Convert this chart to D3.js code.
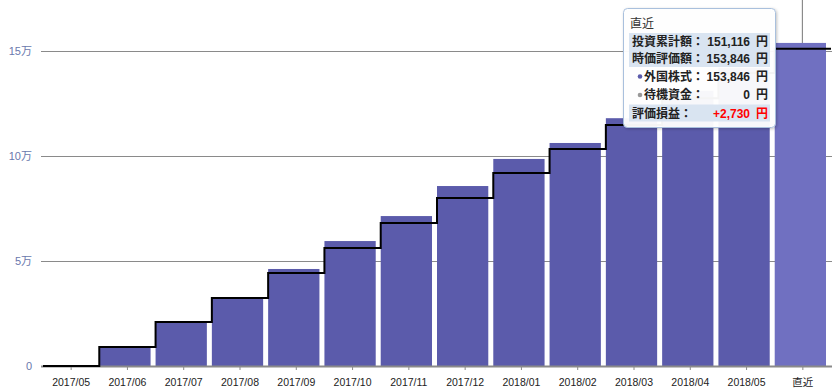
<!DOCTYPE html>
<html><head><meta charset="utf-8">
<script src="https://cdn.jsdelivr.net/npm/d3@7"></script>
<style>
html,body{margin:0;padding:0;background:#fff;}
svg{display:block;font-family:"Liberation Sans","Noto Sans CJK JP",sans-serif;}
</style></head>
<body>
<svg id="chart" width="832" height="391"></svg>
<script>
const categories = ["2017/05","2017/06","2017/07","2017/08","2017/09","2017/10","2017/11","2017/12","2018/01","2018/02","2018/03","2018/04","2018/05","直近"];
const marketValue = [0, 9000, 20500, 31900, 46200, 59500, 71400, 85700, 98600, 106200, 118000, 131000, 142000, 153846];
const invested = [0, 9000, 21000, 32400, 44300, 56200, 68100, 80000, 91900, 103300, 114800, 127500, 139500, 151116];
const yTicks = [0, 50000, 100000, 150000];
const yTickLabels = ["0", "5万", "10万", "15万"];
const tooltipTitle = "直近";
const tooltipRows = [
  {label:"投資累計額：", value:"151,116", kind:"head"},
  {label:"時価評価額：", value:"153,846", kind:"head"},
  {label:"外国株式：", value:"153,846", kind:"sub", dot:"#5b5bab"},
  {label:"待機資金：", value:"0", kind:"sub", dot:"#999999"},
  {label:"評価損益：", value:"+2,730", kind:"total"}
];

const svg = d3.select("#chart");
const x = d3.scaleBand().domain(categories).range([43, 831]).paddingInner(0).paddingOuter(0);
const y = d3.scaleLinear().domain([0, 150000]).range([366, 51]);
const bw = x.bandwidth();

// gridlines
svg.append("g").selectAll("line").data(yTicks.filter(d=>d>0)).join("line")
  .attr("x1", 41).attr("x2", 832)
  .attr("y1", d=>Math.round(y(d))+0.5).attr("y2", d=>Math.round(y(d))+0.5)
  .attr("stroke", "#8a8a8a").attr("stroke-width", 1);

// y labels
svg.append("g").selectAll("text").data(yTicks).join("text")
  .attr("x", 32).attr("y", d=>y(d)+4)
  .attr("text-anchor", "end").attr("font-size", 11).attr("fill", "#6a78ad")
  .text((d,i)=>yTickLabels[i]);

// crosshair
const last = categories[categories.length-1];
svg.append("line")
  .attr("x1", x(last)+bw/2-0.5).attr("x2", x(last)+bw/2-0.5)
  .attr("y1", 0).attr("y2", 366)
  .attr("stroke", "#777").attr("stroke-width", 1);

// bars
svg.append("g").selectAll("rect").data(categories).join("rect")
  .attr("x", d=>x(d))
  .attr("width", bw-5)
  .attr("y", (d,i)=>y(marketValue[i]))
  .attr("height", (d,i)=>y(0)-y(marketValue[i]))
  .attr("fill", (d,i)=> i===categories.length-1 ? "#7070c1" : "#5b5bab");

// axis line
svg.append("line").attr("x1", 41).attr("x2", 832).attr("y1", 366.5).attr("y2", 366.5)
  .attr("stroke", "#8a8a8a").attr("stroke-width", 2);
// ticks
svg.append("g").selectAll("line").data(categories).join("line")
  .attr("x1", d=>x(d)+bw/2).attr("x2", d=>x(d)+bw/2)
  .attr("y1", 367).attr("y2", 370)
  .attr("stroke", "#8a8a8a").attr("stroke-width", 1);

// step line
const stepPts = invested.map((v,i)=>[x(categories[i]), y(v)]);
stepPts.push([x(last)+bw, y(invested[invested.length-1])]);
const line = d3.line().curve(d3.curveStepAfter);
svg.append("path").attr("d", line(stepPts))
  .attr("fill", "none").attr("stroke", "#000").attr("stroke-width", 2);

// x labels
svg.append("g").selectAll("text").data(categories).join("text")
  .attr("x", d=>x(d)+bw/2).attr("y", 386)
  .attr("text-anchor", "middle").attr("font-size", 10.5).attr("fill", "#222")
  .text(d=>d);

// tooltip
const defs = svg.append("defs");
const f = defs.append("filter").attr("id","sh").attr("x","-10%").attr("y","-10%").attr("width","130%").attr("height","130%");
f.append("feDropShadow").attr("dx",1).attr("dy",1).attr("stdDeviation",1.5).attr("flood-color","#000").attr("flood-opacity",0.25);

const tt = svg.append("g");
tt.append("rect").attr("x", 623.5).attr("y", 8.5).attr("width", 152).attr("height", 119)
  .attr("rx", 4).attr("fill", "rgba(255,255,255,0.95)")
  .attr("stroke", "#a9c0dd").attr("stroke-width", 1).attr("filter","url(#sh)");
tt.append("text").attr("x", 630).attr("y", 28).attr("font-size", 12).attr("fill", "#333").text(tooltipTitle);

const rowY = [41, 58.5, 76, 94.5, 113];
const rowBg = [[33,17],[50,17],null,null,[104.5,17]];
tooltipRows.forEach((r,i)=>{
  if (r.kind !== "sub") {
    tt.append("rect").attr("x", 629).attr("y", rowBg[i][0]).attr("width", 141).attr("height", rowBg[i][1])
      .attr("fill", "#d9e4f1");
  }
  const lx = r.kind === "sub" ? 644 : 632;
  if (r.dot) {
    tt.append("circle").attr("cx", 640).attr("cy", rowY[i]+0.5).attr("r", 2.3).attr("fill", r.dot);
  }
  tt.append("text").attr("x", lx).attr("y", rowY[i]+4.5).attr("font-size", 12).attr("font-weight","bold")
    .attr("fill", "#222").text(r.label);
  const col = r.kind === "total" ? "#ff0000" : "#222";
  tt.append("text").attr("x", 750).attr("y", rowY[i]+4.5).attr("text-anchor","end")
    .attr("font-size", 12).attr("font-weight","bold").attr("fill", col).text(r.value);
  tt.append("text").attr("x", 756).attr("y", rowY[i]+4.5)
    .attr("font-size", 12).attr("font-weight","bold").attr("fill", col).text("円");
});
</script>
</body></html>
